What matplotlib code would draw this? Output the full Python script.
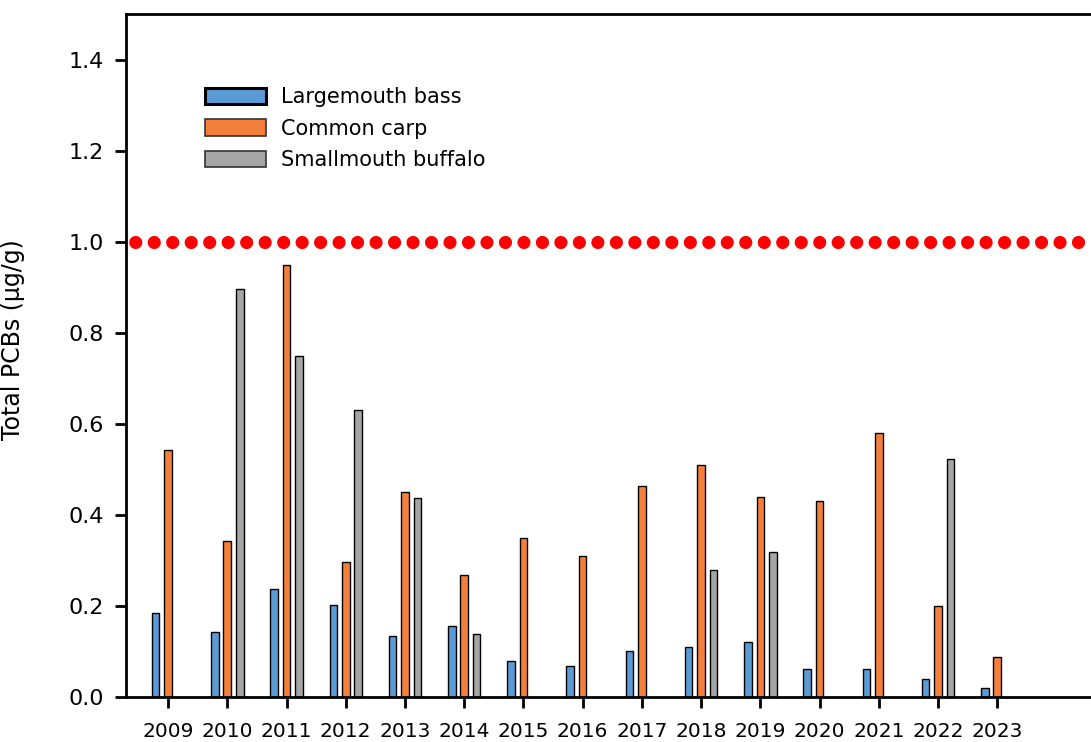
import matplotlib
matplotlib.use("Agg")
import matplotlib.pyplot as plt
import matplotlib.patches as mpatches
import numpy as np

years = ['2009', '2010', '2011', '2012', '2013', '2014', '2015', '2016',
         '2017', '2018', '2019', '2020', '2021', '2022', '2023']
bass = [0.184, 0.142, 0.238, 0.202, 0.135, 0.155, 0.080, 0.069,
        0.101, 0.110, 0.121, 0.061, 0.061, 0.040, 0.020]
carp = [0.543, 0.343, 0.949, 0.297, 0.450, 0.268, 0.349, 0.310,
        0.464, 0.510, 0.440, 0.431, 0.580, 0.201, 0.089]
buffalo = [np.nan, 0.897, 0.749, 0.631, 0.437, 0.138, np.nan, np.nan,
           np.nan, 0.279, 0.319, np.nan, np.nan, 0.523, np.nan]
threshold = 1.0

BLUE = '#5B9BD5'
ORANGE = '#F47F3A'
GRAY = '#A5A5A5'

plt.rcParams['font.family'] = ['DejaVu Sans']

fig = plt.figure(figsize=(10.91, 7.42), dpi=100)
# axes run off the right edge, as in the reference
ax = fig.add_axes([0.1155, 0.0606, 0.893, 0.9205])

x = np.arange(len(years))
w = 0.128
off = 0.21
ax.bar(x - off, bass, w, color=BLUE, edgecolor='black', linewidth=1)
ax.bar(x, carp, w, color=ORANGE, edgecolor='black', linewidth=1)
ax.bar(x + off, buffalo, w, color=GRAY, edgecolor='black', linewidth=1)

# red dotted reference line
ax.axhline(threshold, color='#FF0000', linewidth=9.5,
           linestyle=(0.7, (0.001, 1.40)), dash_capstyle='round', zorder=3)

ax.set_xlim(-0.71, 15.74)
ax.set_ylim(0, 1.5)
ax.set_yticks(np.arange(0, 1.41, 0.2))
ax.set_yticklabels([f'{v:.1f}' for v in np.arange(0, 1.41, 0.2)])
ax.set_xticks(x)
ax.set_xticklabels(years)
ax.tick_params(axis='both', direction='out', length=8, width=2, colors='black')
ax.tick_params(axis='x', pad=10, labelsize=14.5)
ax.tick_params(axis='y', pad=8, labelsize=16)
for s in ax.spines.values():
    s.set_linewidth(2)

ax.set_ylabel('Total PCBs (\u00b5g/g)', fontsize=17)
ax.yaxis.set_label_coords(-0.104, 0.524)

handles = [
    mpatches.Patch(facecolor=BLUE, edgecolor='black', linewidth=2.2, label='Largemouth bass'),
    mpatches.Patch(facecolor=ORANGE, edgecolor='#333333', linewidth=1.2, label='Common carp'),
    mpatches.Patch(facecolor=GRAY, edgecolor='#333333', linewidth=1.2, label='Smallmouth buffalo'),
]
ax.legend(handles=handles, loc='upper left', bbox_to_anchor=(0.081, 0.893),
          frameon=False, fontsize=15, handlelength=2.95, handleheight=0.85,
          labelspacing=0.55, handletextpad=0.7, borderpad=0, borderaxespad=0)

plt.savefig('out.png', dpi=100, facecolor='white')
plt.close()
